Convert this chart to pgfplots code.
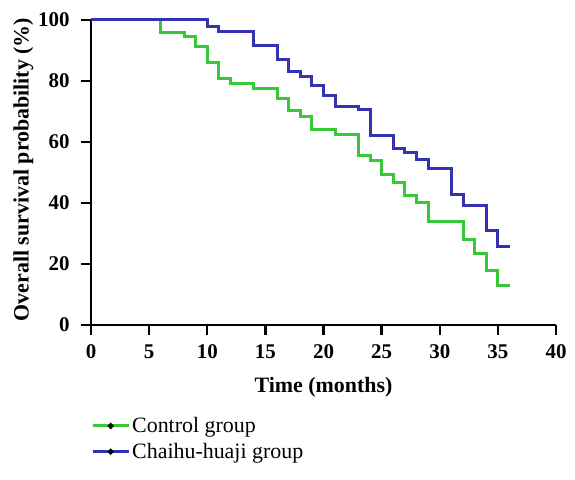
\documentclass[border=0pt]{standalone}
\usepackage{fontspec}
\setmainfont{Liberation Serif}
\usepackage{pgfplots}
\pgfplotsset{compat=1.18}
\definecolor{cgreen}{RGB}{55,200,55}
\definecolor{cblue}{RGB}{50,50,178}
\begin{document}
\begin{tikzpicture}[x=1bp,y=1bp]
\path[use as bounding box] (-91,-155) rectangle (484,325);
\begin{axis}[
  at={(0,0)}, anchor=origin,
  width=465bp, height=305bp, scale only axis,
  xmin=0, xmax=40, ymin=0, ymax=100,
  axis x line*=bottom, axis y line*=left,
  axis line style={line width=2.4bp, black},
  xtick={0,5,...,40}, ytick={0,20,...,100},
  tick align=outside, major tick length=10bp,
  major tick style={line width=2.4bp, black},
  /pgf/number format/assume math mode=true,
  ticklabel style={font=\bfseries\fontsize{21}{21}\selectfont},
  xticklabel style={yshift=-6bp},
  yticklabel style={xshift=-8bp},
  xlabel={Time (months)},
  ylabel={Overall survival probability (\%)},
  label style={font=\bfseries\fontsize{22}{22}\selectfont},
  xlabel style={yshift=-12bp},
  ylabel style={yshift=-2bp, xshift=3bp},
  clip=false,
  legend style={at={(0,-0.29)}, anchor=north west, draw=none, fill=none,
    font=\fontsize{22}{22}\selectfont, row sep=5bp, inner xsep=0pt},
  legend cell align=left,
  legend image code/.code={\draw[#1] (0bp,0bp) -- (36bp,0bp); \fill[black] (18bp,0bp) circle (1.2bp);},
]
\addplot[const plot, cgreen, line width=3bp] coordinates {
(0,100) (6,96.0) (8,94.5) (9,91.2) (10,86.1) (11,80.7) (12,79.2) (14,77.6)
(16,74.1) (17,70.4) (18,68.4) (19,64.1) (21,62.3) (23,55.7) (24,53.9)
(25,49.2) (26,46.6) (27,42.5) (28,40.1) (29,33.8) (32,27.9) (33,23.5)
(34,18.0) (35,12.8) (36,12.8)};
\addlegendentry{Control group}
\addplot[const plot, cblue, line width=3bp] coordinates {
(0,100) (10,97.8) (11,96.2) (14,91.8) (16,86.9) (17,83.2) (18,81.6)
(19,78.6) (20,75.3) (21,71.8) (23,70.5) (24,62.0) (26,57.9) (27,56.5)
(28,54.3) (29,51.2) (31,42.8) (32,39.1) (34,31.1) (35,25.9) (36,25.9)};
\addlegendentry{Chaihu-huaji group}
\end{axis}
\end{tikzpicture}
\end{document}
